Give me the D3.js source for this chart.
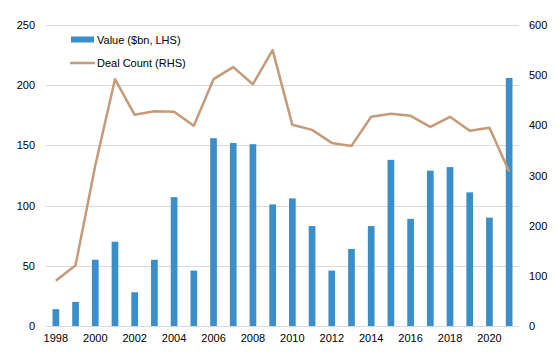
<!DOCTYPE html>
<html><head><meta charset="utf-8">
<script src="https://cdn.jsdelivr.net/npm/d3@7"></script>
<style>body{margin:0;background:#fff}svg{display:block;font-family:"Liberation Sans",Arial,sans-serif}</style>
</head><body><svg id="c" width="557" height="352"></svg>
<script>
const years = [1998,1999,2000,2001,2002,2003,2004,2005,2006,2007,2008,2009,2010,2011,2012,2013,2014,2015,2016,2017,2018,2019,2020,2021];
const values = [14,20,55,70,28,55,107,46,156,152,151,101,106,83,46,64,83,138,89,129,132,111,90,206];
const dealCount = [90,121,320,492,421,428,427,399,492,516,482,550,401,391,365,359,417,423,419,397,417,389,395,308];
const leftTicks = [0,50,100,150,200,250];
const rightTicks = [0,100,200,300,400,500,600];
const xTickLabels = [1998,2000,2002,2004,2006,2008,2010,2012,2014,2016,2018,2020];

const svg = d3.select("#c");
const m = {l:46, r:519, t:25, b:326};
const x = d3.scaleBand().domain(years).range([m.l, m.r]).paddingInner(0.66).paddingOuter(0.33);
const xc = d => x(d) + x.bandwidth()/2;
const yL = d3.scaleLinear().domain([0,250]).range([m.b, m.t]);
const yR = d3.scaleLinear().domain([0,600]).range([m.b, m.t]);

// gridlines
svg.append("g").selectAll("line").data(leftTicks).join("line")
  .attr("x1", m.l).attr("x2", m.r)
  .attr("y1", d => Math.round(yL(d))+0.5).attr("y2", d => Math.round(yL(d))+0.5)
  .attr("stroke", "#d9d9d9").attr("stroke-width", 1);

// left axis
const la = svg.append("g").attr("transform", `translate(${m.l-11},0)`)
  .call(d3.axisLeft(yL).tickValues(leftTicks).tickSize(0).tickPadding(0));
la.select(".domain").remove();
la.selectAll("text").attr("font-size", 11).attr("fill", "#000").attr("font-family", "Liberation Sans, Arial, sans-serif");

// right axis
const ra = svg.append("g").attr("transform", `translate(${m.r+10},0)`)
  .call(d3.axisRight(yR).tickValues(rightTicks).tickSize(0).tickPadding(0));
ra.select(".domain").remove();
ra.selectAll("text").attr("font-size", 11).attr("fill", "#000").attr("font-family", "Liberation Sans, Arial, sans-serif");

// x axis
const xa = svg.append("g").attr("transform", `translate(0,${m.b+8})`)
  .call(d3.axisBottom(x).tickValues(xTickLabels).tickSize(0).tickPadding(0));
xa.select(".domain").remove();
xa.selectAll("text").attr("font-size", 11).attr("fill", "#000").attr("font-family", "Liberation Sans, Arial, sans-serif");

// bars
svg.append("g").selectAll("rect").data(years).join("rect")
  .attr("x", d => x(d)).attr("width", x.bandwidth())
  .attr("y", (d,i) => yL(values[i])).attr("height", (d,i) => yL(0) - yL(values[i]))
  .attr("fill", "#3a8fca");

// line
const line = d3.line().x(d => xc(d[0])).y(d => yR(d[1]));
svg.append("path").datum(years.map((y,i) => [y, dealCount[i]]))
  .attr("d", line).attr("fill", "none").attr("stroke", "#c49a78").attr("stroke-width", 2.5)
  .attr("stroke-linejoin", "round");

// legend
const lg = svg.append("g");
lg.append("rect").attr("x", 71).attr("y", 36.5).attr("width", 23).attr("height", 6).attr("fill", "#3a8fca");
lg.append("text").attr("x", 97).attr("y", 44).attr("font-size", 11).text("Value ($bn, LHS)");
lg.append("line").attr("x1", 70).attr("x2", 95).attr("y1", 63).attr("y2", 63).attr("stroke", "#c49a78").attr("stroke-width", 2.5);
lg.append("text").attr("x", 97).attr("y", 67).attr("font-size", 11).text("Deal Count (RHS)");
</script></body></html>
